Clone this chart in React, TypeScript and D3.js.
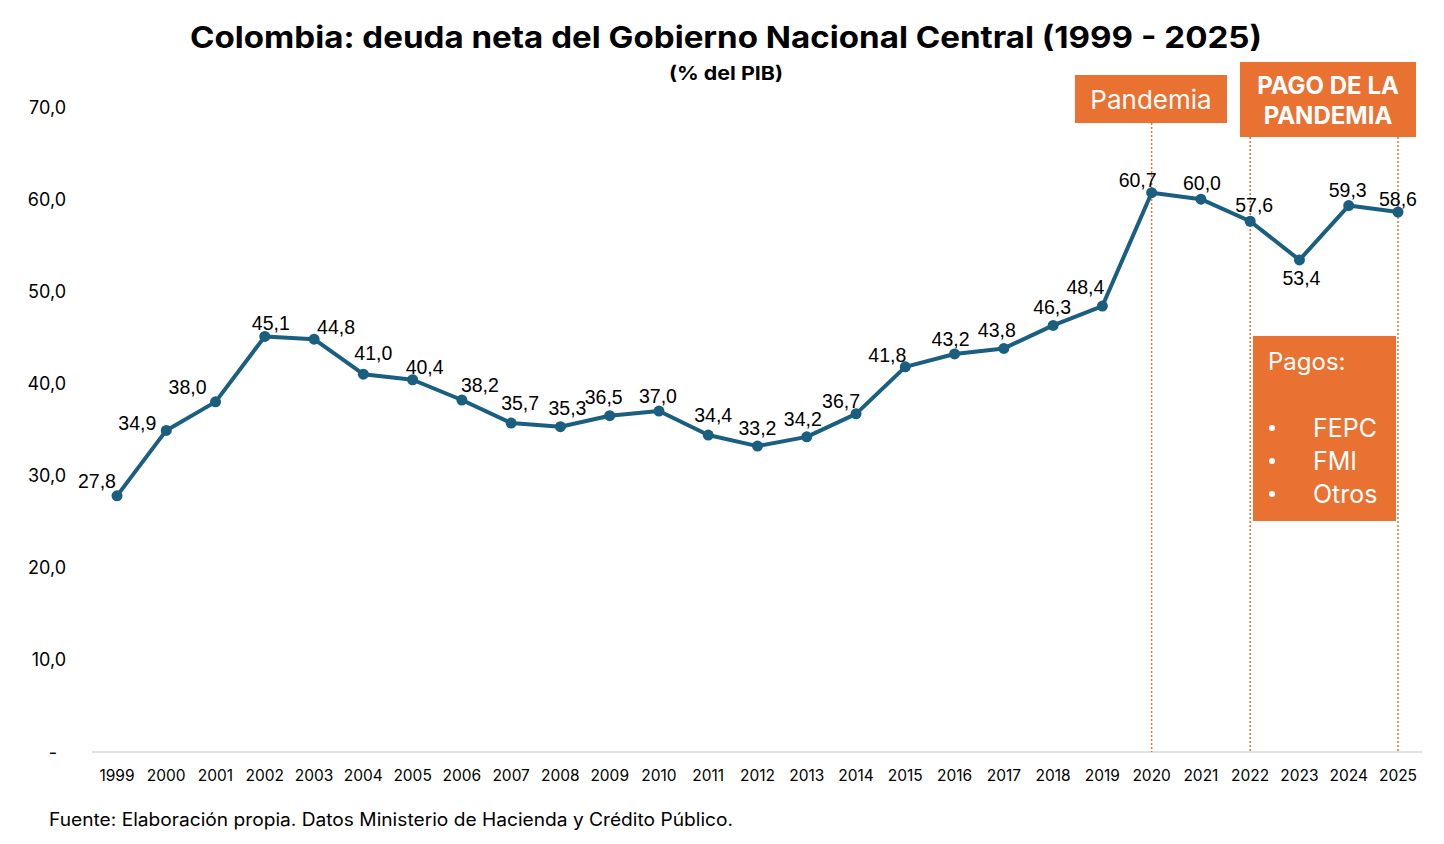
import React, { useEffect, useRef } from "react";
import * as d3 from "d3";

// Deuda neta GNC (% del PIB)
const years = [
  1999, 2000, 2001, 2002, 2003, 2004, 2005, 2006, 2007, 2008, 2009, 2010, 2011,
  2012, 2013, 2014, 2015, 2016, 2017, 2018, 2019, 2020, 2021, 2022, 2023, 2024,
  2025,
];
const debt = [
  27.8, 34.9, 38.0, 45.1, 44.8, 41.0, 40.4, 38.2, 35.7, 35.3, 36.5, 37.0, 34.4,
  33.2, 34.2, 36.7, 41.8, 43.2, 43.8, 46.3, 48.4, 60.7, 60.0, 57.6, 53.4, 59.3,
  58.6,
];
const yTicks = [0, 10, 20, 30, 40, 50, 60, 70];
const pagosItems = ["FEPC", "FMI", "Otros"];
const markerYears = [2020, 2022, 2025];

// label placement relative to each point (dx, dy of text center)
const labelOffsets: [number, number][] = [
  [-20, -15], [-29, -7], [-28, -15], [6, -13], [22, -12], [10, -21], [12, -13],
  [18, -15], [9, -20], [7, -19], [-6, -19], [-1, -15], [5, -20], [0, -18],
  [-4, -18], [-15, -13], [-18, -12], [-4, -15], [-7, -18], [-1, -18],
  [-17, -19], [-14, -13], [1, -16], [4, -16], [2, 18], [-1, -16], [0, -13],
];

const fmt = (v: number) => v.toFixed(1).replace(".", ",");

const ORANGE = "#E97132";
const LINE = "#1A5E80";
const FONT = "Inter, 'Noto Sans', sans-serif";

const App: React.FC = () => {
  const svgRef = useRef<SVGSVGElement>(null);

  useEffect(() => {
    document.body.style.margin = "0";
    if (!svgRef.current) return;
    const svg = d3.select(svgRef.current);
    svg.selectAll("*").remove();

    const x = d3.scaleLinear().domain([1999, 2025]).range([117, 1398]);
    const y = d3.scaleLinear().domain([0, 70]).range([752, 107]);

    // title
    svg
      .append("text")
      .attr("x", 726)
      .attr("y", 37)
      .attr("text-anchor", "middle")
      .attr("dominant-baseline", "central")
      .attr("font-family", FONT)
      .attr("font-weight", 700)
      .attr("font-size", 30)
      .attr("textLength", 1072)
      .attr("lengthAdjust", "spacingAndGlyphs")
      .text("Colombia: deuda neta del Gobierno Nacional Central (1999 - 2025)");

    svg
      .append("text")
      .attr("x", 726)
      .attr("y", 73)
      .attr("text-anchor", "middle")
      .attr("dominant-baseline", "central")
      .attr("font-family", FONT)
      .attr("font-weight", 700)
      .attr("font-size", 19)
      .attr("textLength", 114)
      .attr("lengthAdjust", "spacingAndGlyphs")
      .text("(% del PIB)");

    // y axis labels
    svg
      .append("g")
      .selectAll("text")
      .data(yTicks)
      .join("text")
      .attr("x", (d) => (d === 0 ? 57 : 66))
      .attr("y", (d) => y(d))
      .attr("text-anchor", "end")
      .attr("dominant-baseline", "central")
      .attr("font-family", FONT)
      .attr("font-size", 18)
      .attr("fill", "#000")
      .text((d) => (d === 0 ? "-" : fmt(d)));

    // x axis line
    svg
      .append("line")
      .attr("x1", 92)
      .attr("x2", 1422)
      .attr("y1", y(0))
      .attr("y2", y(0))
      .attr("stroke", "#d9d9d9")
      .attr("stroke-width", 1.5);

    svg
      .append("g")
      .selectAll("text")
      .data(years)
      .join("text")
      .attr("x", (d) => x(d))
      .attr("y", 775)
      .attr("text-anchor", "middle")
      .attr("dominant-baseline", "central")
      .attr("font-family", FONT)
      .attr("font-size", 15.5)
      .attr("fill", "#000")
      .text((d) => String(d));

    // dotted marker lines
    const markerTop: Record<number, number> = { 2020: 123, 2022: 137, 2025: 137 };
    svg
      .append("g")
      .selectAll("line")
      .data(markerYears)
      .join("line")
      .attr("x1", (d) => x(d))
      .attr("x2", (d) => x(d))
      .attr("y1", (d) => markerTop[d])
      .attr("y2", y(0))
      .attr("stroke", ORANGE)
      .attr("stroke-width", 1.5)
      .attr("stroke-dasharray", "2,2");

    // annotation boxes
    svg
      .append("rect")
      .attr("x", 1075)
      .attr("y", 75)
      .attr("width", 152)
      .attr("height", 48)
      .attr("fill", ORANGE);
    svg
      .append("text")
      .attr("x", 1151)
      .attr("y", 99)
      .attr("text-anchor", "middle")
      .attr("dominant-baseline", "central")
      .attr("font-family", FONT)
      .attr("font-size", 26)
      .attr("fill", "#fff")
      .text("Pandemia");

    svg
      .append("rect")
      .attr("x", 1240)
      .attr("y", 62)
      .attr("width", 176)
      .attr("height", 75)
      .attr("fill", ORANGE);
    ["PAGO DE LA", "PANDEMIA"].forEach((t, i) => {
      svg
        .append("text")
        .attr("x", 1328)
        .attr("y", 85 + i * 30)
        .attr("text-anchor", "middle")
        .attr("dominant-baseline", "central")
        .attr("font-family", FONT)
        .attr("font-weight", 700)
        .attr("font-size", 24)
        .attr("fill", "#fff")
        .text(t);
    });

    svg
      .append("rect")
      .attr("x", 1253)
      .attr("y", 336)
      .attr("width", 143)
      .attr("height", 185)
      .attr("fill", ORANGE);
    svg
      .append("text")
      .attr("x", 1268)
      .attr("y", 361)
      .attr("dominant-baseline", "central")
      .attr("font-family", FONT)
      .attr("font-size", 24)
      .attr("fill", "#fff")
      .text("Pagos:");
    pagosItems.forEach((t, i) => {
      const ty = 428 + i * 33;
      svg
        .append("circle")
        .attr("cx", 1272)
        .attr("cy", ty)
        .attr("r", 3)
        .attr("fill", "#fff");
      svg
        .append("text")
        .attr("x", 1313)
        .attr("y", ty)
        .attr("dominant-baseline", "central")
        .attr("font-family", FONT)
        .attr("font-size", 25)
        .attr("fill", "#fff")
        .text(t);
    });

    // line
    const line = d3
      .line<number>()
      .x((_, i) => x(years[i]))
      .y((d) => y(d));

    svg
      .append("path")
      .datum(debt)
      .attr("d", line)
      .attr("fill", "none")
      .attr("stroke", LINE)
      .attr("stroke-width", 4)
      .attr("stroke-linejoin", "round");

    svg
      .append("g")
      .selectAll("circle")
      .data(debt)
      .join("circle")
      .attr("cx", (_, i) => x(years[i]))
      .attr("cy", (d) => y(d))
      .attr("r", 5.5)
      .attr("fill", LINE);

    svg
      .append("g")
      .selectAll("text")
      .data(debt)
      .join("text")
      .attr("x", (_, i) => x(years[i]) + labelOffsets[i][0])
      .attr("y", (d, i) => y(d) + labelOffsets[i][1])
      .attr("text-anchor", "middle")
      .attr("dominant-baseline", "central")
      .attr("font-family", "'Liberation Sans', Arial, sans-serif")
      .attr("font-size", 19.5)
      .attr("fill", "#000")
      .text((d) => fmt(d));

    // source
    svg
      .append("text")
      .attr("x", 49)
      .attr("y", 819)
      .attr("dominant-baseline", "central")
      .attr("font-family", FONT)
      .attr("font-size", 18)
      .attr("textLength", 684)
      .attr("lengthAdjust", "spacingAndGlyphs")
      .attr("fill", "#000")
      .text("Fuente: Elaboración propia. Datos Ministerio de Hacienda y Crédito Público.");
  }, []);

  return (
    <svg
      ref={svgRef}
      width={1444}
      height={844}
      style={{ display: "block", background: "#fff" }}
    />
  );
};

export default App;
